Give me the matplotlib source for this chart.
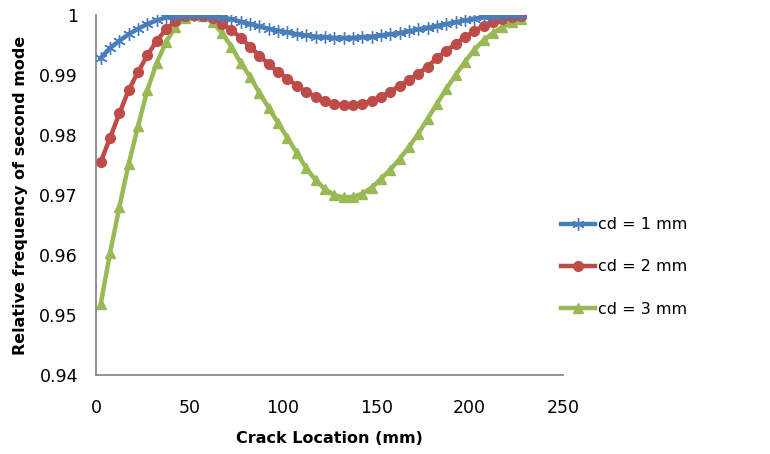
import matplotlib
matplotlib.use("Agg")
import matplotlib.pyplot as plt
import numpy as np

# crack locations (mm)
crack_loc = [2.5, 7.5, 12.5, 17.5, 22.5, 27.5, 32.5, 37.5, 42.5, 47.5,
             52.5, 57.5, 62.5, 67.5, 72.5, 77.5, 82.5, 87.5, 92.5, 97.5,
             102.5, 107.5, 112.5, 117.5, 122.5, 127.5, 132.5, 137.5, 142.5, 147.5,
             152.5, 157.5, 162.5, 167.5, 172.5, 177.5, 182.5, 187.5, 192.5, 197.5,
             202.5, 207.5, 212.5, 217.5, 222.5, 227.5]

cd1 = [0.9928, 0.9945, 0.9957, 0.9968, 0.9977, 0.9985, 0.9991, 0.9996, 0.9999, 1.0000,
       1.0000, 1.0000, 0.9999, 0.9996, 0.9993, 0.9989, 0.9985, 0.9981, 0.9977, 0.9974,
       0.9971, 0.9968, 0.9966, 0.9964, 0.9963, 0.9962, 0.9962, 0.9962, 0.9963, 0.9964,
       0.9966, 0.9968, 0.9970, 0.9973, 0.9976, 0.9979, 0.9982, 0.9985, 0.9988, 0.9991,
       0.9994, 0.9996, 0.9998, 0.9999, 1.0000, 1.0000]

cd2 = [0.9755, 0.9795, 0.9836, 0.9875, 0.9905, 0.9933, 0.9957, 0.9976, 0.9990, 0.9998,
       1.0000, 0.9999, 0.9995, 0.9985, 0.9975, 0.9962, 0.9947, 0.9932, 0.9918, 0.9905,
       0.9894, 0.9882, 0.9872, 0.9864, 0.9857, 0.9852, 0.9850, 0.9850, 0.9852, 0.9857,
       0.9864, 0.9872, 0.9882, 0.9892, 0.9902, 0.9914, 0.9928, 0.9940, 0.9952, 0.9963,
       0.9973, 0.9982, 0.9989, 0.9994, 0.9997, 0.9998]

cd3 = [0.9518, 0.9603, 0.9680, 0.9752, 0.9815, 0.9875, 0.9920, 0.9955, 0.9980, 0.9995,
       1.0000, 0.9998, 0.9988, 0.9970, 0.9947, 0.9920, 0.9897, 0.9870, 0.9845, 0.9820,
       0.9795, 0.9770, 0.9745, 0.9725, 0.9710, 0.9700, 0.9696, 0.9697, 0.9702, 0.9712,
       0.9727, 0.9742, 0.9760, 0.9780, 0.9802, 0.9827, 0.9852, 0.9877, 0.9900, 0.9922,
       0.9942, 0.9958, 0.9970, 0.9980, 0.9988, 0.9993]

x_ticks = [0, 50, 100, 150, 200, 250]
y_ticks = [0.94, 0.95, 0.96, 0.97, 0.98, 0.99, 1.0]
y_tick_labels = ["0.94", "0.95", "0.96", "0.97", "0.98", "0.99", "1"]

fig = plt.figure(figsize=(7.7, 4.54), dpi=100)
ax = fig.add_axes([0.1247, 0.174, 0.6065, 0.793])

ax.plot(crack_loc, cd1, color="#4A7EBB", lw=3.2, marker=(6, 2, 0), ms=9,
        mew=1.0, label="cd = 1 mm", zorder=3)
ax.plot(crack_loc, cd2, color="#BE4B48", lw=3.2, marker="o", ms=7,
        mec="#BE4B48", label="cd = 2 mm", zorder=2)
ax.plot(crack_loc, cd3, color="#98B954", lw=3.2, marker="^", ms=7.5,
        mec="#98B954", label="cd = 3 mm", zorder=1)

ax.set_xlim(0, 250)
ax.set_ylim(0.94, 1.0)
ax.set_xticks(x_ticks)
ax.set_yticks(y_ticks)
ax.set_yticklabels(y_tick_labels)
ax.tick_params(length=0, labelsize=12.5)
ax.tick_params(axis="x", pad=17)
ax.tick_params(axis="y", pad=13)
for s in ["top", "right"]:
    ax.spines[s].set_visible(False)
for s in ["left", "bottom"]:
    ax.spines[s].set_color("#7f7f7f")
    ax.spines[s].set_linewidth(1.2)

ax.set_xlabel("Crack Location (mm)", fontsize=11.5, fontweight="bold", labelpad=10)
ax.set_ylabel("Relative frequency of second mode", fontsize=11.5,
              fontweight="bold", labelpad=8)

fig.legend(loc="center left", bbox_to_anchor=(0.71, 0.412), frameon=False,
           fontsize=11.5, labelspacing=1.7, handlelength=2.1, handletextpad=0.2)

fig.savefig("out.png", dpi=100)
